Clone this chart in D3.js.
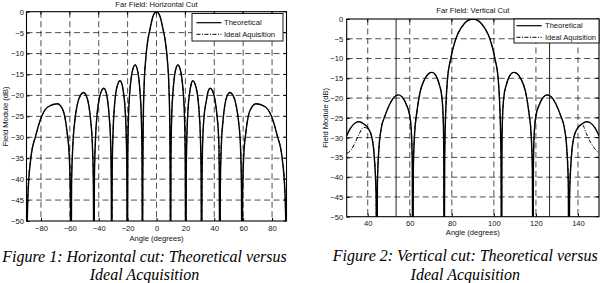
<!DOCTYPE html>
<html>
<head>
<meta charset="utf-8">
<script src="https://cdn.jsdelivr.net/npm/d3@7/dist/d3.min.js"></script>
<style>
  body { margin: 0; background: #fff; }
  svg text { font-family: "Liberation Sans", Arial, sans-serif; fill: #111; }
  svg text.caption { font-family: "Liberation Serif", "Times New Roman", serif; font-style: italic; font-size: 16px; fill: #000; }
</style>
</head>
<body>
<svg id="fig" width="614" height="283"></svg>
<script>
//Tick labels
var yTicks = [-50, -45, -40, -35, -30, -25, -20, -15, -10, -5, 0];
var hTicks = [-80, -60, -40, -20, 0, 20, 40, 60, 80];
var vTicks = [40, 60, 80, 100, 120, 140];
var seriesNames = ["Theoretical", "Ideal Aquisition"];

//Horizontal cut: angle (deg) and field (dB), read lobe by lobe
var hAngle = [-90, -89, -87, -83.5, -79.5, -75, -68.5, -66, -63.5, -61.8, -60.4, -59.6, -59.2,
  -58.8, -57.9, -56.6, -54.9, -52.7, -50.5, -48.7, -46.9, -45.5, -44.4, -43.7, -43.3,
  -43.0, -42.3, -41.3, -39.9, -38.2, -36.5, -35.1, -33.8, -32.7, -31.8, -31.3, -31.0,
  -30.7, -30.1, -29.3, -28.2, -26.7, -25.3, -24.0, -22.8, -21.7, -21.0, -20.5, -20.2,
  -19.9, -19.4, -18.6, -17.5, -16.2, -14.8, -13.5, -12.3, -11.3, -10.5, -10.0, -9.7,
  -9.5, -9.2, -8.6, -7.5, -6.0, -4.5, -2.4, 0, 2.4, 4.5, 6.0, 7.5, 8.6, 9.2, 9.5, 9.7,
  10.0, 10.5, 11.3, 12.3, 13.5, 14.8, 16.2, 17.5, 18.6, 19.4, 19.9, 20.3,
  20.6, 21.1, 21.8, 22.9, 24.1, 25.1, 26.6, 28.2, 29.4, 30.3, 30.9, 31.2,
  31.5, 32.0, 32.9, 34.5, 35.8, 37.2, 38.9, 40.6, 42.0, 43.1, 43.5, 43.8,
  44.2, 44.9, 46.0, 47.3, 49.0, 50.8, 53.0, 55.1, 56.8, 58.1, 58.8, 59.2,
  59.6, 60.4, 61.8, 63.5, 66.2, 68.9, 75.2, 79.6, 83.5, 87, 89, 90];
var hTheoretical = [-56, -44, -35, -29.5, -25, -22.7, -22, -22.7, -25, -29, -34.5, -44, -75,
  -41.4, -31.9, -26.2, -22.3, -20.0, -19.3, -20.0, -22.3, -26.2, -31.9, -41.4, -75,
  -40.4, -30.9, -25.2, -21.3, -19.0, -18.3, -19.0, -21.3, -25.2, -30.9, -40.4, -75,
  -38.6, -29.1, -23.4, -19.5, -17.2, -16.5, -17.2, -19.5, -23.4, -29.1, -38.6, -75,
  -34.9, -25.4, -19.7, -15.8, -13.5, -12.7, -13.5, -15.8, -19.7, -25.4, -34.9, -75,
  -40, -27, -18, -11.5, -6.8, -4.2, -1.1, 0, -1.1, -4.2, -6.8, -11.5, -18, -27, -40, -75,
  -34.9, -25.4, -19.7, -15.8, -13.5, -12.7, -13.5, -15.8, -19.7, -25.4, -34.9, -75,
  -38.6, -29.1, -23.4, -19.5, -17.2, -16.5, -17.2, -19.5, -23.4, -29.1, -38.6, -75,
  -40.4, -30.9, -25.2, -21.3, -19.0, -18.3, -19.0, -21.3, -25.2, -30.9, -40.4, -75,
  -41.4, -31.9, -26.2, -22.3, -20.0, -19.3, -20.0, -22.3, -26.2, -31.9, -41.4, -75,
  -44, -34.5, -29, -25, -22.7, -22, -22.7, -25, -29.5, -35, -44, -56];
var hIdeal = [-54, -43, -35, -29.5, -25, -22.7, -22, -22.7, -25, -29, -34, -42, -60,
  -40, -31.5, -26.2, -22.3, -20.0, -19.3, -20.0, -22.3, -26.2, -31.5, -40, -60,
  -39, -30.5, -25.2, -21.3, -19.0, -18.3, -19.0, -21.3, -25.2, -30.5, -39, -60,
  -37.5, -28.8, -23.4, -19.5, -17.2, -16.5, -17.2, -19.5, -23.4, -28.8, -37.5, -60,
  -34, -25.2, -19.7, -15.8, -13.5, -12.7, -13.5, -15.8, -19.7, -25.2, -34, -60,
  -38.5, -26.8, -18, -11.5, -6.8, -4.2, -1.1, 0, -1.1, -4.2, -6.8, -11.5, -18, -26.8, -38.5, -60,
  -34, -25.2, -19.7, -15.8, -13.5, -12.7, -13.5, -15.8, -19.7, -25.2, -34, -60,
  -37.5, -28.8, -23.4, -19.5, -17.2, -16.5, -17.2, -19.5, -23.4, -28.8, -37.5, -60,
  -39, -30.5, -25.2, -21.3, -19.0, -18.3, -19.0, -21.3, -25.2, -30.5, -39, -60,
  -40, -31.5, -26.2, -22.3, -20.0, -19.3, -20.0, -22.3, -26.2, -31.5, -40, -60,
  -42, -34, -29, -25, -22.7, -22, -22.7, -25, -29.5, -35, -43, -54];

//Vertical cut
var vAngle = [30, 32, 34, 36, 38, 40.3, 41.9, 43.1, 44.0, 44.3,
  44.6, 45.3, 46.5, 48.2, 50.5, 52.5, 54.6, 56.5, 58.5, 60.0, 60.8, 61.2, 61.4,
  61.7, 62.3, 63.3, 64.9, 67.0, 69.0, 70.6, 72.3, 74.0, 75.2, 75.9, 76.2, 76.3,
  76.6, 77.2, 77.9, 79.5, 81.9, 84.5, 87.0, 90, 93.0, 95.5, 98.1, 100.5, 102.1, 102.8, 103.4, 103.7,
  103.8, 104.1, 104.8, 106.0, 107.7, 109.4, 111.0, 113.0, 115.1, 116.7, 117.7, 118.3, 118.6,
  118.8, 119.2, 120.0, 121.5, 123.5, 125.4, 127.5, 129.5, 131.8, 133.5, 134.7, 135.4, 135.7,
  136.0, 136.9, 138.1, 139.7, 142.0, 144.0, 146.0, 148.0, 150];
var vTheoretical = [-29.5, -27.5, -26.3, -26.0, -26.5, -27.7, -29.8, -34.8, -45, -80,
  -42, -33, -27.5, -24.5, -21.5, -19.8, -19.2, -19.8, -21.8, -24.5, -29, -37, -80,
  -38, -29, -23.8, -18.5, -15.3, -13.8, -13.5, -14.2, -16.5, -19.5, -25, -35, -80,
  -35, -22, -15.5, -10, -5, -2.2, -0.6, 0, -0.6, -2.2, -5, -10, -15.5, -22, -35, -80,
  -35, -25, -19.5, -16.5, -14.2, -13.5, -13.8, -15.3, -18.5, -23.8, -29, -38, -80,
  -37, -29, -24.5, -21.8, -19.8, -19.2, -19.8, -21.5, -24.5, -27.5, -33, -42, -80,
  -45, -34.8, -29.8, -27.7, -26.5, -26.0, -26.3, -27.5, -29.5];
var vIdeal = [-34, -33.2, -31.3, -29, -27.4, -27.8, -29.8, -34.5, -44, -62,
  -41, -33, -27.5, -24.5, -21.5, -19.8, -19.2, -19.8, -21.8, -24.5, -29, -36, -62,
  -37, -29, -23.8, -18.5, -15.3, -13.8, -13.5, -14.2, -16.5, -19.5, -25, -34, -62,
  -34, -22, -15.5, -10, -5, -2.2, -0.6, 0, -0.6, -2.2, -5, -10, -15.5, -22, -34, -62,
  -34, -25, -19.5, -16.5, -14.2, -13.5, -13.8, -15.3, -18.5, -23.8, -29, -37, -62,
  -36, -29, -24.5, -21.8, -19.8, -19.2, -19.8, -21.5, -24.5, -27.5, -33, -41, -62,
  -44, -34.5, -29.8, -27.7, -26.7, -29, -31.2, -32.8, -34];
//Full-height vertical traces in the vertical cut
var vSpikes = [53.5, 126.5];

var svg = d3.select("#fig");
svg.append("rect").attr("width", 614).attr("height", 283).attr("fill", "#fff");

function buildChart(opt) {
  var g = svg.append("g");
  var x = d3.scaleLinear().domain(opt.xDomain).range([opt.left, opt.right]);
  var y = d3.scaleLinear().domain([-50, 0]).range([opt.bottom, opt.top]);
  var w = opt.right - opt.left;
  var h = opt.bottom - opt.top;

  g.append("clipPath").attr("id", "clip-" + opt.name)
    .append("rect").attr("x", opt.left).attr("y", opt.top).attr("width", w).attr("height", h);

  //Dashed grid
  g.selectAll(".vgrid").data(opt.xTicks).enter().append("line")
    .attr("x1", function(d) { return x(d); }).attr("x2", function(d) { return x(d); })
    .attr("y1", opt.top).attr("y2", opt.bottom)
    .attr("stroke", "#222").attr("stroke-width", 0.8).attr("stroke-dasharray", "6,3.5");
  g.selectAll(".hgrid").data(yTicks.slice(1, -1)).enter().append("line")
    .attr("x1", opt.left).attr("x2", opt.right)
    .attr("y1", function(d) { return y(d); }).attr("y2", function(d) { return y(d); })
    .attr("stroke", "#222").attr("stroke-width", 0.8).attr("stroke-dasharray", "6,3.5");

  //Curves
  var plot = g.append("g").attr("clip-path", "url(#clip-" + opt.name + ")");
  var line = d3.line()
    .x(function(d) { return x(d[0]); })
    .y(function(d) { return y(d[1]); })
    .curve(d3.curveMonotoneX);

  if (opt.spikes) {
    plot.selectAll(".spike").data(opt.spikes).enter().append("line")
      .attr("x1", function(d) { return x(d); }).attr("x2", function(d) { return x(d); })
      .attr("y1", opt.top).attr("y2", opt.bottom)
      .attr("stroke", "#222").attr("stroke-width", 1);
  }

  plot.append("path")
    .datum(d3.zip(opt.angle, opt.ideal))
    .attr("d", line).attr("fill", "none")
    .attr("stroke", "#000").attr("stroke-width", 1).attr("stroke-dasharray", "4,1.5,1,1.5");
  plot.append("path")
    .datum(d3.zip(opt.angle, opt.theory))
    .attr("d", line).attr("fill", "none")
    .attr("stroke", "#000").attr("stroke-width", 1.4);

  //Axes
  var yAxis = d3.axisLeft(y).tickValues(yTicks).tickSize(-3).tickPadding(opt.yPad);
  var xAxis = d3.axisBottom(x).tickValues(opt.xTicks).tickSize(-3).tickPadding(opt.xPad);
  var ya = g.append("g").attr("transform", "translate(" + opt.left + ",0)").call(yAxis);
  var xa = g.append("g").attr("transform", "translate(0," + opt.bottom + ")").call(xAxis);
  [ya, xa].forEach(function(a) {
    a.select(".domain").remove();
    a.selectAll("text").style("font-size", "7.6px").style("font-family", "'Liberation Sans', Arial, sans-serif");
    a.selectAll("line").attr("stroke", "#000");
  });
  //mirrored ticks
  g.selectAll(".rtick").data(yTicks).enter().append("line")
    .attr("x1", opt.right).attr("x2", opt.right - 3)
    .attr("y1", function(d) { return y(d); }).attr("y2", function(d) { return y(d); })
    .attr("stroke", "#000");
  g.selectAll(".ttick").data(opt.xTicks).enter().append("line")
    .attr("x1", function(d) { return x(d); }).attr("x2", function(d) { return x(d); })
    .attr("y1", opt.top).attr("y2", opt.top + 3)
    .attr("stroke", "#000");

  g.append("rect")
    .attr("x", opt.left).attr("y", opt.top).attr("width", w).attr("height", h)
    .attr("fill", "none").attr("stroke", "#000").attr("stroke-width", 1.1);

  //Labels
  g.append("text").attr("x", (opt.left + opt.right) / 2).attr("y", opt.titleY)
    .attr("text-anchor", "middle").style("font-size", "7.6px").text(opt.title);
  g.append("text").attr("x", (opt.left + opt.right) / 2).attr("y", opt.xlabelY)
    .attr("text-anchor", "middle").style("font-size", "7.6px").text("Angle (degrees)");
  g.append("text")
    .attr("transform", "translate(" + opt.ylabelX + "," + (opt.top + opt.bottom) / 2 + ") rotate(-90)")
    .attr("text-anchor", "middle").attr("dy", "0.35em").style("font-size", "7.6px")
    .text("Field Module (dB)");

  //Legend
  var L = opt.legend;
  var lg = g.append("g");
  lg.append("rect").attr("x", L.x).attr("y", L.y).attr("width", L.w).attr("height", L.h)
    .attr("fill", "#fff").attr("stroke", "#000").attr("stroke-width", 0.9);
  seriesNames.forEach(function(name, i) {
    var ry = L.rows[i];
    lg.append("line").attr("x1", L.lx1).attr("x2", L.lx2).attr("y1", ry).attr("y2", ry)
      .attr("stroke", "#000").attr("stroke-width", i === 0 ? 1.2 : 1)
      .attr("stroke-dasharray", i === 0 ? null : "4,1.5,1,1.5");
    lg.append("text").attr("x", L.tx).attr("y", ry).attr("dy", "0.35em")
      .style("font-size", "7.6px").text(name);
  });

  //Caption under the figure
  opt.caption.forEach(function(c, i) {
    svg.append("text").attr("class", "caption")
      .attr("x", opt.capX).attr("y", opt.capY[i])
      .attr("text-anchor", "middle").text(c);
  });
}

buildChart({
  name: "h", left: 26.5, right: 286.5, top: 11.7, bottom: 221,
  xDomain: [-90, 90], xTicks: hTicks,
  angle: hAngle, theory: hTheoretical, ideal: hIdeal,
  title: "Far Field: Horizontal Cut", titleY: 6.5,
  xPad: 5, yPad: 2.5, xlabelY: 241, ylabelX: 5,
  legend: { x: 192, y: 13.5, w: 91, h: 27.5, rows: [22.7, 34.3], lx1: 196.5, lx2: 221.5, tx: 224 },
  caption: ["Figure 1: Horizontal cut: Theoretical versus", "Ideal Acquisition"],
  capX: 144.5, capY: [261.5, 279.5]
});

buildChart({
  name: "v", left: 346.7, right: 599, top: 19, bottom: 216.7,
  xDomain: [30, 150], xTicks: vTicks,
  angle: vAngle, theory: vTheoretical, ideal: vIdeal, spikes: vSpikes,
  title: "Far Field: Vertical Cut", titleY: 12.5,
  xPad: 4, yPad: 3.5, xlabelY: 235, ylabelX: 325,
  legend: { x: 514, y: 19, w: 85, h: 24, rows: [25.7, 37.3], lx1: 516.5, lx2: 541.7, tx: 545 },
  caption: ["Figure 2: Vertical cut: Theoretical versus", "Ideal Acquisition"],
  capX: 465.3, capY: [261, 279.5]
});
</script>
</body>
</html>
